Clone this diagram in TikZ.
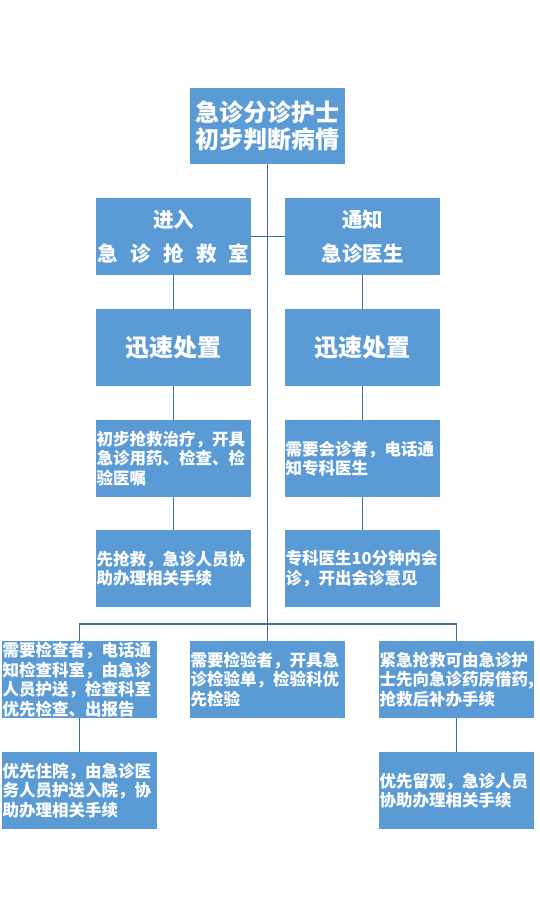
\documentclass[tikz,border=0pt]{standalone}
\usepackage{fontspec}
\newfontfamily\cjk{Noto Sans CJK SC}
\usepackage{xcolor}
\definecolor{boxblue}{RGB}{91,155,213}
\definecolor{lineblue}{RGB}{65,113,156}

\begin{document}
\begin{tikzpicture}[x=1pt,y=-1pt,
  box/.style={fill=boxblue, text=white, inner sep=0pt, minimum width=155pt,
    minimum height=77pt, align=center, font=\cjk\bfseries},
  txt/.style={box, text width=154pt, align=left,
    font=\cjk\bfseries\fontsize{16.5}{19.5}\selectfont},
  link/.style={draw=lineblue, line width=1.2pt}]
\useasboundingbox (0,0) rectangle (540,916);

% head and the two branches
\node[box, minimum height=76pt, font=\cjk\bfseries\fontsize{24}{27}\selectfont] (head) at (267.5,126) {急诊分诊护士\\初步判断病情};
\node[box, font=\cjk\bfseries\fontsize{20.5}{34}\selectfont] (room) at (173.5,236.5) {进入\\\makebox[152pt][s]{急\hfil 诊\hfil 抢\hfil 救\hfil 室}};
\node[box, font=\cjk\bfseries\fontsize{20.5}{34}\selectfont] (doc) at (362.5,236.5) {通知\\急诊医生};

\node[box, font=\cjk\bfseries\fontsize{24}{27}\selectfont] (fastl) at (173.5,347.5) {迅速处置};
\node[box, font=\cjk\bfseries\fontsize{24}{27}\selectfont] (fastr) at (362.5,347.5) {迅速处置};

\node[txt] (treat) at (173.5,458.5) {初步抢救治疗，开具\\急诊用药、检查、检\\验医嘱};
\node[txt] (consult) at (362.5,458.5) {需要会诊者，电话通\\知专科医生};
\node[txt] (rescue) at (173.5,568.5) {先抢救，急诊人员协\\助办理相关手续};
\node[txt] (expert) at (362.5,568.5) {专科医生10分钟内会\\诊，开出会诊意见};

% bottom row
\node[txt] (exam) at (79.5,679.5) {需要检查者，电话通\\知检查科室，由急诊\\人员护送，检查科室\\优先检查、出报告};
\node[txt] (lab) at (267.5,679.5) {需要检验者，开具急\\诊检验单，检验科优\\先检验};
\node[txt] (drug) at (456.5,679.5) {紧急抢救可由急诊护\\士先向急诊药房借药,\\抢救后补办手续};
\node[txt] (admit) at (79.5,790.5) {优先住院，由急诊医\\务人员护送入院，协\\助办理相关手续};
\node[txt] (observe) at (456.5,790.5) {优先留观，急诊人员\\协助办理相关手续};

\coordinate (bus) at (267.5,624);

\draw[link] (head.south) -- (lab.north);
\draw[link] (room.east) -- (doc.west);
\draw[link] (room.south) -- (fastl.north);
\draw[link] (fastl.south) -- (treat.north);
\draw[link] (treat.south) -- (rescue.north);
\draw[link] (doc.south) -- (fastr.north);
\draw[link] (fastr.south) -- (consult.north);
\draw[link] (consult.south) -- (expert.north);
\draw[link] (exam.north) |- (bus) -| (drug.north);
\draw[link] (exam.south) -- (admit.north);
\draw[link] (drug.south) -- (observe.north);
\end{tikzpicture}
\end{document}
